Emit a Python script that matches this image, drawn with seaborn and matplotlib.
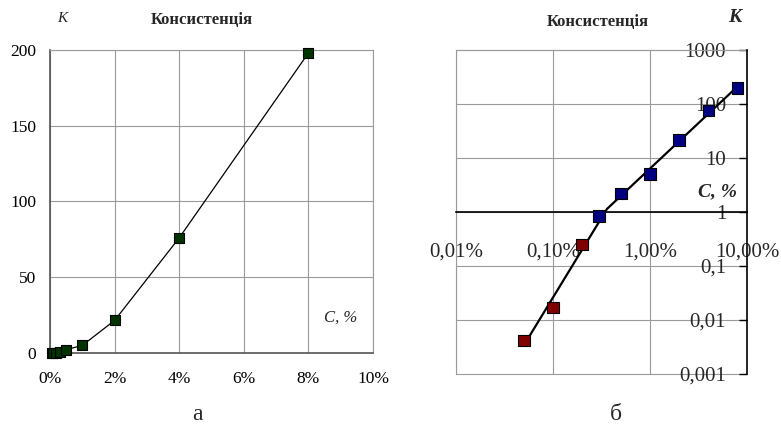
import numpy as np
import pandas as pd
import matplotlib
matplotlib.use("Agg")
import matplotlib.pyplot as plt
import seaborn as sns

# ---- data ----
conc_pct = [0.05, 0.1, 0.2, 0.3, 0.5, 1.0, 2.0, 4.0, 8.0]          # C, %
consistency = [0.0042, 0.017, 0.25, 0.85, 2.2, 5.0, 21.5, 76.0, 198.0]  # K
regime = ["low", "low", "low", "high", "high", "high", "high", "high", "high"]

lin_xticks = [0, 2, 4, 6, 8, 10]
lin_xlabels = ["0%", "2%", "4%", "6%", "8%", "10%"]
lin_yticks = [0, 50, 100, 150, 200]

log_xticks = [0.01, 0.1, 1, 10]
log_xlabels = ["0,01%", "0,10%", "1,00%", "10,00%"]
log_yticks = [0.001, 0.01, 0.1, 1, 10, 100, 1000]
log_ylabels = ["0,001", "0,01", "0,1", "1", "10", "100", "1000"]

title = "Консистенція"

df = pd.DataFrame({"C": conc_pct, "K": consistency, "regime": regime})

sns.set_style("white")
plt.rcParams["font.family"] = ["Liberation Serif", "DejaVu Serif"]

W, H = 781, 426
fig = plt.figure(figsize=(W / 100, H / 100), dpi=100)

GRID = "#9a9a9a"
SPINE = "#555555"

# ================= left (linear) =================
ax1 = fig.add_axes([50 / W, 73 / H, 323 / W, 303 / H])
sns.lineplot(data=df, x="C", y="K", ax=ax1, color="black", lw=0.9, sort=True)
sns.scatterplot(data=df, x="C", y="K", ax=ax1, marker="s", s=60,
                color="#003300", edgecolor="black", linewidth=0.8, zorder=5,
                clip_on=False)
ax1.set_xlim(0, 10)
ax1.set_ylim(0, 200)
ax1.set_xticks(lin_xticks, labels=lin_xlabels)
ax1.set_yticks(lin_yticks)
ax1.grid(True, color=GRID, lw=0.8)
ax1.set_xlabel("")
ax1.set_ylabel("")
for s in ["top", "right"]:
    ax1.spines[s].set_color(GRID)
    ax1.spines[s].set_linewidth(0.8)
for s in ["left", "bottom"]:
    ax1.spines[s].set_color(SPINE)
    ax1.spines[s].set_linewidth(1.2)
ax1.tick_params(axis="both", direction="out", length=5, width=1, color=SPINE,
                labelsize=12.5, labelcolor="black")
ax1.tick_params(axis="x", pad=8)
ax1.tick_params(axis="y", pad=5)

fig.text(62 / W, 1 - 19 / H, "К", fontsize=11, style="italic", ha="center", va="center")
fig.text(202 / W, 1 - 20 / H, title, fontsize=12, weight="bold", ha="center", va="center")
fig.text(341 / W, 1 - 318 / H, "С, %", fontsize=12, style="italic",
         ha="center", va="center")
fig.text(197 / W, 1 - 415 / H, "а", fontsize=17, ha="center", va="center")

# ================= right (log-log) =================
ax2 = fig.add_axes([456 / W, 52 / H, 291 / W, 324 / H])
ax2.set_xscale("log")
ax2.set_yscale("log")

# power-law trend lines for the two regimes
lx = np.log10(df["C"].to_numpy())
ly = np.log10(df["K"].to_numpy())
lo = df["regime"].to_numpy() == "low"
p_lo = np.polyfit(lx[lo], ly[lo], 1)
p_hi = np.polyfit(lx[~lo], ly[~lo], 1)
x_int = (p_hi[1] - p_lo[1]) / (p_lo[0] - p_hi[0])
seg_lo = np.array([lx[lo].min(), x_int])
seg_hi = np.array([x_int, lx[~lo].max()])
trend = pd.DataFrame({
    "C": 10 ** np.concatenate([seg_lo, seg_hi]),
    "K": 10 ** np.concatenate([np.polyval(p_lo, seg_lo), np.polyval(p_hi, seg_hi)]),
})
sns.lineplot(data=trend, x="C", y="K", ax=ax2, color="black", lw=1.6, sort=True)
sns.scatterplot(data=df, x="C", y="K", hue="regime", ax=ax2, marker="s", s=70,
                palette={"low": "#800000", "high": "#000080"}, edgecolor="black",
                linewidth=0.8, zorder=5, legend=False, clip_on=False)

ax2.set_xlim(0.01, 10)
ax2.set_ylim(0.001, 1000)
ax2.set_xticks(log_xticks, labels=log_xlabels)
ax2.set_yticks(log_yticks, labels=log_ylabels)
ax2.minorticks_off()
ax2.set_xlabel("")
ax2.set_ylabel("")
ax2.grid(True, color=GRID, lw=0.8)
for gl in ax2.get_ygridlines() + ax2.get_xgridlines():
    gl.set_clip_on(False)

ax2.spines["bottom"].set_position(("data", 1))
ax2.spines["bottom"].set_color("black")
ax2.spines["bottom"].set_linewidth(1.2)
ax2.spines["bottom"].set_zorder(3)
ax2.spines["right"].set_visible(True)
ax2.spines["right"].set_color("black")
ax2.spines["right"].set_linewidth(1.2)
ax2.spines["right"].set_zorder(3)
ax2.spines["left"].set_color(GRID)
ax2.spines["left"].set_linewidth(0.8)
ax2.spines["top"].set_color(GRID)
ax2.spines["top"].set_linewidth(0.8)

ax2.tick_params(axis="x", direction="out", length=4, width=1, color="black",
                labelsize=15, pad=18)
ax2.yaxis.tick_right()
ax2.tick_params(axis="y", which="major", direction="in", length=6, width=1,
                color="black", labelsize=15, left=False, right=True,
                labelleft=False, labelright=True, pad=-15)
for t in ax2.yaxis.get_major_ticks():
    t.label2.set_horizontalalignment("right")

fig.text(598 / W, 1 - 22 / H, title, fontsize=12, weight="bold", ha="center", va="center")
fig.text(735 / W, 1 - 18 / H, "К", fontsize=14, weight="bold", style="italic",
         ha="center", va="center")
fig.text(717 / W, 1 - 192 / H, "С, %", fontsize=14, weight="bold", style="italic",
         ha="center", va="center")
fig.text(616 / W, 1 - 415 / H, "б", fontsize=17, ha="center", va="center")

fig.savefig("out.png", dpi=100)
